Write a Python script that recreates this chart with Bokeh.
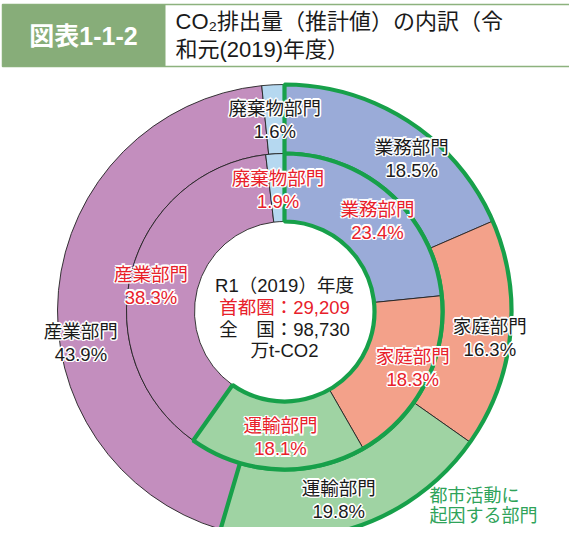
import numpy as np
from bokeh.plotting import figure
from bokeh.models import Range1d, ColumnDataSource
from bokeh.core.properties import value
from bokeh.embed import file_html
from bokeh.resources import INLINE

# ---------------- data ----------------
sectors = ["業務部門", "家庭部門", "運輸部門", "産業部門", "廃棄物部門"]
national_pct = [18.5, 16.3, 19.8, 43.9, 1.6]   # outer ring (全国)
capital_pct = [23.4, 18.3, 18.1, 38.3, 1.9]    # inner ring (首都圏)
urban_sectors = ["業務部門", "家庭部門", "運輸部門"]
fig_label = "図表1-1-2"
title_lines = ["CO₂排出量（推計値）の内訳（令", "和元(2019)年度）"]
center_lines = ["R1（2019）年度", "首都圏：29,209", "全　国：98,730", "万t-CO2"]
urban_note = ["都市活動に", "起因する部門"]

# ---------------- styles ----------------
sector_colors = ["#9AABD8", "#F3A18A", "#9FD3A3", "#C38EBE", "#B5D8F0"]
green = "#17A04A"
font = "Liberation Sans, Noto Sans CJK JP"

W, H = 569, 527
def Y(py):
    return 543 - py

p = figure(width=W, height=H, x_range=Range1d(8, 577), y_range=Range1d(8, 535),
           output_backend="svg", toolbar_location=None, min_border=0)
p.axis.visible = False
p.grid.visible = False
p.outline_line_color = None
p.background_fill_color = "white"

cx, cy = 292, Y(319)
R_out, R_mid, R_in = 227, 158, 90


def ring_angles(pcts):
    v = np.array(pcts, dtype=float)
    frac = v / v.sum()
    after = np.cumsum(frac)
    before = after - frac
    start = np.pi / 2 - after * 2 * np.pi
    end = np.pi / 2 - before * 2 * np.pi
    mid = (before + after) / 2 * 2 * np.pi   # clockwise from top
    return start, end, mid


def draw_ring(pcts, r0, r1):
    s, e, m = ring_angles(pcts)
    src = ColumnDataSource(dict(start=s, end=e, color=sector_colors))
    p.annular_wedge(x=cx, y=cy, inner_radius=r0, outer_radius=r1,
                    start_angle="start", end_angle="end", direction="anticlock",
                    fill_color="color", line_color="#222222", line_width=0.9,
                    source=src)
    # green outline for urban sectors
    idx = [sectors.index(u) for u in urban_sectors]
    p.annular_wedge(x=cx, y=cy, inner_radius=r0, outer_radius=r1,
                    start_angle=min(s[i] for i in idx), end_angle=max(e[i] for i in idx),
                    direction="anticlock", fill_alpha=0, line_color=green, line_width=4.2)
    return m


mid_out = draw_ring(national_pct, R_mid, R_out)
mid_in = draw_ring(capital_pct, R_in, R_mid)

# ---------------- text helper ----------------
offs = [(-1.5, 0), (1.5, 0), (0, -1.5), (0, 1.5), (-1.1, -1.1), (1.1, 1.1), (-1.1, 1.1), (1.1, -1.1)]


def halo_text(xs, ys, texts, color, size, align="center", bold=False, halo=True, f=font):
    src = ColumnDataSource(dict(x=xs, y=ys, t=texts))
    kw = dict(text_font=value(f), text_font_size=f"{size}px", text_align=align,
              text_baseline="middle", text_font_style="bold" if bold else "normal")
    if halo:
        for dx, dy in offs:
            p.text("x", "y", text="t", source=src, x_offset=dx, y_offset=dy,
                   text_color="white", **kw)
    p.text("x", "y", text="t", source=src, text_color=color, **kw)


# label placement (polar, around ring): radius and angular nudge per sector
out_r = [199, 207, 196, 206, 192]
out_nudge = [6.5, 1.4, 3.2, -14, 0]
in_r = [130, 140, 126, 136, 122]
in_nudge = [3.5, -3.6, -0.9, -3.2, 0.4]


def place_labels(pcts, mids, radii, nudges, color):
    xs, ys, ts = [], [], []
    for name, v, m, r, n in zip(sectors, pcts, mids, radii, nudges):
        a = m + np.deg2rad(n)
        x = cx + r * np.sin(a)
        y = cy + r * np.cos(a)
        xs += [x, x]
        ys += [y + 11.5, y - 11.5]
        ts += [name, f"{v:.1f}%"]
    halo_text(xs, ys, ts, color, 18.5)


place_labels(national_pct, mid_out, out_r, out_nudge, "#1A1A1A")
place_labels(capital_pct, mid_in, in_r, in_nudge, "#E8202A")

# center text
ctr_y = [Y(293), Y(315), Y(337), Y(358)]
ctr_col = ["#1A1A1A", "#E8202A", "#1A1A1A", "#1A1A1A"]
for t, yy, c in zip(center_lines, ctr_y, ctr_col):
    halo_text([cx], [yy], [t], c, 18.5, halo=False)

# urban note
halo_text([437, 437], [Y(503), Y(523)], urban_note, "#2FA35A", 18, align="left", halo=False)

# ---------------- header ----------------
p.quad(left=10, right=640, top=Y(12), bottom=Y(74), fill_color="white",
       line_color="#8DB27E", line_width=1.5)
p.quad(left=10, right=173, top=Y(12), bottom=Y(74), fill_color="#87AD79", line_color=None)
halo_text([91], [Y(43)], [fig_label], "white", 25, bold=True, halo=False)
halo_text([183, 183], [Y(29), Y(57)], title_lines, "#1A1A1A", 22, align="left", halo=False)

open("out.html", "w").write(file_html(p, INLINE))
